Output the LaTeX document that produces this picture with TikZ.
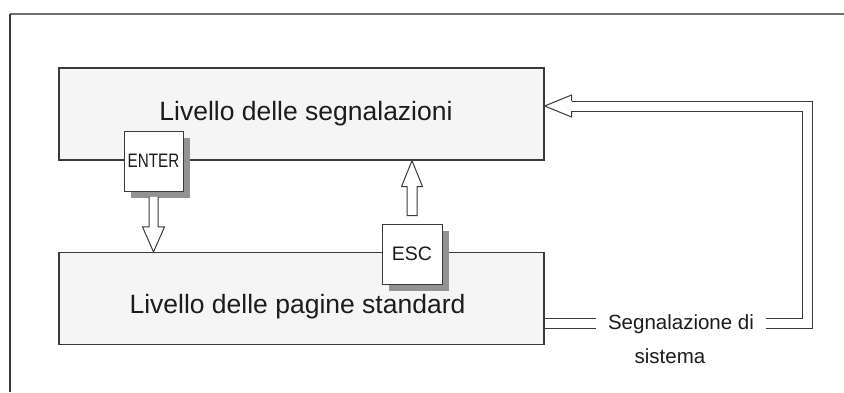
\documentclass[tikz,border=0pt]{standalone}
\usepackage{fontspec}
\setmainfont{Liberation Sans}
\newfontfamily\narrowfont[FakeStretch=0.78]{Liberation Sans}
\usetikzlibrary{positioning}
\usetikzlibrary{calc}
\usetikzlibrary{shadows}

\definecolor{boxgray}{HTML}{F5F5F5}
\definecolor{shadowgray}{HTML}{939393}
\definecolor{linegray}{HTML}{3A3A3A}
\definecolor{framegray}{HTML}{707070}
\definecolor{textgray}{HTML}{1C1C1C}

\tikzset{
  level/.style={draw=linegray, fill=boxgray, line width=1.2pt, minimum width=485pt, minimum height=92pt, inner sep=0pt},
  leveltext/.style={font=\fontsize{26.5}{30}\selectfont, anchor=base, inner sep=0pt},
  keybox/.style={draw=linegray, fill=white, line width=1pt, minimum width=59pt, minimum height=60pt, inner sep=0pt,
    drop shadow={shadow xshift=7pt, shadow yshift=-7pt, fill=shadowgray, opacity=1}},
  blockarrow/.style={draw=linegray, fill=white, line width=1pt, line join=miter},
  hollow/.style={draw=linegray, line width=1pt, double=white, double distance=9pt, line join=miter},
}

\begin{document}
\begin{tikzpicture}[x=1pt, y=-1pt, text=textgray]
  \useasboundingbox (0,0) rectangle (844,392);
  % frame
  \draw[framegray, line width=2pt] (10,14) -- (844,14);
  \draw[linegray, line width=1.2pt] (10,14) -- (10,392);

  % the two levels
  \node[level] (sig) at (301.5,114) {};
  \node[level] (pag) at (301.5,298.5) {};
  \node[leveltext] (sigtext) at (306,120) {Livello delle segnalazioni};
  \node[leveltext] (pagtext) at (297.5,313) {Livello delle pagine standard};

  % keys
  \node[keybox, font=\narrowfont\fontsize{19.5}{22}\selectfont] (enter) at (153.5,161) {ENTER};
  \node[keybox, minimum width=60pt, font=\fontsize{19.5}{22}\selectfont] (esc) at (412,254) {ESC};

  % ENTER: down to the standard pages
  \coordinate (dtip) at (enter.south |- pag.north);
  \draw[blockarrow] ($(dtip)+(-4.5,-55)$) -- ($(dtip)+(-4.5,-25)$) -- ($(dtip)+(-11,-25)$) -- (dtip)
    -- ($(dtip)+(11,-25)$) -- ($(dtip)+(4.5,-25)$) -- ($(dtip)+(4.5,-55)$);

  % ESC: up to the messages
  \coordinate (utip) at (esc.north |- sig.south);
  \draw[blockarrow] (utip) -- ($(utip)+(10.5,26)$) -- ($(utip)+(5,26)$) -- ($(utip)+(5,55)$)
    -- ($(utip)+(-5,55)$) -- ($(utip)+(-5,26)$) -- ($(utip)+(-10.5,26)$) -- cycle;

  % system message loop
  \node[font=\fontsize{20.5}{34}\selectfont, align=center, anchor=north, inner xsep=12pt, inner ysep=0pt] (sys) at (681,314) {Segnalazione di\\sistema\hspace*{22pt}};
  \coordinate (sysin) at ($(pag.east)+(0,24.5)$);
  \coordinate (rtip) at ($(sig.east)+(0,-8)$);
  \coordinate (corner) at ($(rtip)+(263,0)$);
  \draw[hollow] (sysin) -- (sysin -| sys.west);
  \draw[hollow] (sysin -| sys.east) -| (corner) -- ($(rtip)+(27,0)$);
  \draw[blockarrow] ($(rtip)+(27,-5)$) -- ($(rtip)+(27,-11)$) -- (rtip) -- ($(rtip)+(27,11)$) -- ($(rtip)+(27,5)$);
\end{tikzpicture}
\end{document}
